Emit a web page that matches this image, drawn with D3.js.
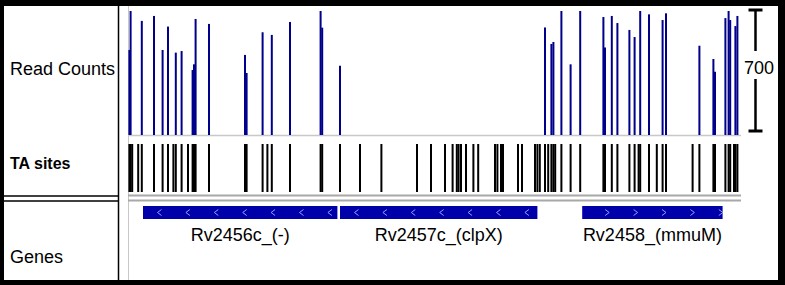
<!DOCTYPE html>
<html>
<head>
<meta charset="utf-8">
<script src="https://cdn.jsdelivr.net/npm/d3@7/dist/d3.min.js"></script>
<style>
  body { margin: 0; background: #000; }
  svg { display: block; font-family: "Liberation Sans", Arial, sans-serif; }
</style>
</head>
<body>
<div id="tracks"></div>
<script>
// DATA (positions in bp from the start of the window)
var taSites = [2, 8, 16, 46, 64, 125, 168, 195, 222, 234, 263, 295, 318, 325, 333, 400,
  580, 588, 668, 692, 714, 805, 958, 966, 1055, 1155, 1262, 1440, 1510, 1580, 1618, 1639,
  1648, 1660, 1685, 1722, 1746, 1830, 1842, 1860, 1870, 1945, 1965, 2030, 2042, 2054,
  2080, 2096, 2112, 2122, 2131, 2162, 2208, 2256, 2372, 2380, 2414, 2442, 2502, 2528,
  2548, 2556, 2600, 2639, 2668, 2685, 2818, 2852, 2922, 2930, 2982, 2998, 3006, 3025,
  3032, 3042];

// one count per TA site, 0 = no insertions
var readCounts = [480, 700, 0, 0, 644, 672, 480, 612, 0, 465, 474, 0, 367, 399, 655, 627,
  452, 350, 580, 0, 565, 638, 700, 606, 391, 0, 0, 0, 0, 0, 0, 0,
  0, 0, 0, 0, 0, 0, 0, 0, 0, 0, 0, 0, 0, 0,
  607, 0, 514, 525, 0, 700, 399, 700, 666, 494, 672, 632, 593, 553,
  0, 700, 681, 0, 649, 687, 0, 504, 429, 357, 660, 700, 649, 0,
  615, 672];

var geneNames = ["Rv2456c_(-)", "Rv2457c_(clpX)", "Rv2458_(mmuM)"];
var geneStarts = [70, 1055, 2266];
var geneEnds = [1042, 2042, 2968];
var geneStrands = ["-", "-", "+"];

var trackLabels = ["Read Counts", "TA sites", "Genes"];
var windowSize = 3060;
var scaleMax = 700;

(function() {
  var width = 785,
      height = 285;

  var svg = d3.select("#tracks")
        .append("svg")
        .attr("width", width)
        .attr("height", height);

  // frame: black border, white panel
  svg.append("rect")
    .attr("width", width)
    .attr("height", height)
    .attr("fill", "#000")

  svg.append("rect")
    .attr("x", 4)
    .attr("y", 6)
    .attr("width", 774)
    .attr("height", 274)
    .attr("fill", "#fff")

 // SCALES
  var xPositionScale = d3.scaleLinear().domain([0, windowSize]).range([129, 741])
  var yPositionScale = d3.scaleLinear().domain([0, scaleMax]).range([135, 11]).clamp(true)

  var taTop = 144,
      taBottom = 192,
      geneTop = 206,
      geneHeight = 13

// label column boxes
  svg.append("line")
    .attr("x1", 118.5).attr("x2", 118.5)
    .attr("y1", 6).attr("y2", 280)
    .attr("stroke", "#000")
    .attr("stroke-width", 1.5)

  svg.selectAll(".box-line")
    .data([196, 201])
    .enter().append("line")
    .attr("class", "box-line")
    .attr("x1", 4).attr("x2", 118.5)
    .attr("y1", function(d) { return d }).attr("y2", function(d) { return d })
    .attr("stroke", "#000")
    .attr("stroke-width", 1.5)

  // grey grid of the tracks
  svg.append("line")
    .attr("x1", 128.5).attr("x2", 128.5)
    .attr("y1", 6).attr("y2", 280)
    .attr("stroke", "#c8c8c8")
    .attr("stroke-width", 1)

  svg.append("line")
    .attr("x1", 128).attr("x2", 741)
    .attr("y1", 135.5).attr("y2", 135.5)
    .attr("stroke", "#c8c8c8")
    .attr("stroke-width", 1.5)

  svg.selectAll(".sep-line")
    .data([195.5, 200.5])
    .enter().append("line")
    .attr("class", "sep-line")
    .attr("x1", 128).attr("x2", 741)
    .attr("y1", function(d) { return d }).attr("y2", function(d) { return d })
    .attr("stroke", "#a8a8a8")
    .attr("stroke-width", 2)

  // track labels
  var labelY = [75, 169, 263]
  svg.selectAll(".track-label")
    .data(trackLabels)
    .enter().append("text")
    .attr("class", "track-label")
    .attr("x", 10)
    .attr("y", function(d, i) { return labelY[i] })
    .attr("font-size", function(d, i) { return i == 1 ? "16px" : "18px" })
    .attr("font-weight", function(d, i) { return i == 1 ? "bold" : "normal" })
    .attr("fill", "#000")
    .text(function(d) { return d })

// READ COUNT BARS
  var reads = taSites.map(function(d, i) { return {pos: d, count: readCounts[i]} })
    .filter(function(d) { return d.count > 0 })

  svg.selectAll(".read")
    .data(reads)
    .enter().append("rect")
    .attr("class", "read")
    .attr("x", function(d) { return xPositionScale(d.pos) - 1 })
    .attr("width", 2)
    .attr("y", function(d) { return yPositionScale(d.count) })
    .attr("height", function(d) { return yPositionScale(0) - yPositionScale(d.count) })
    .attr("fill", "#00008b")

// TA SITES
  svg.selectAll(".ta")
    .data(taSites)
    .enter().append("rect")
    .attr("class", "ta")
    .attr("x", function(d) { return xPositionScale(d) - 1 })
    .attr("width", 2)
    .attr("y", taTop)
    .attr("height", taBottom - taTop)
    .attr("fill", "#000")

// GENES
  var genes = geneNames.map(function(d, i) {
    return {name: d, start: geneStarts[i], end: geneEnds[i], strand: geneStrands[i]}
  })

  var gene = svg.selectAll(".gene")
    .data(genes)
    .enter().append("g")
    .attr("class", "gene")

  gene.append("rect")
    .attr("x", function(d) { return xPositionScale(d.start) })
    .attr("width", function(d) { return xPositionScale(d.end) - xPositionScale(d.start) })
    .attr("y", geneTop)
    .attr("height", geneHeight)
    .attr("fill", "#0000aa")

  // strand chevrons
  gene.each(function(d) {
    var x0 = xPositionScale(d.start), x1 = xPositionScale(d.end)
    var cy = geneTop + geneHeight / 2
    var first = d.strand == "-" ? 16.5 : 25
    for (var x = x0 + first; x < x1 - 1; x += 28.4) {
      var dir = d.strand == "-" ? 1 : -1
      d3.select(this).append("path")
        .attr("d", "M" + (x + 2 * dir) + "," + (cy - 3) + "L" + (x - 2 * dir) + "," + cy + "L" + (x + 2 * dir) + "," + (cy + 3))
        .attr("fill", "none")
        .attr("stroke", "#9a9aff")
        .attr("stroke-width", 1)
    }
  })

  gene.append("text")
    .attr("x", function(d) { return (xPositionScale(d.start) + xPositionScale(d.end)) / 2 })
    .attr("y", 241)
    .attr("text-anchor", "middle")
    .attr("font-size", "18px")
    .attr("fill", "#000")
    .text(function(d) { return d.name })

// DATA RANGE BAR
  var barX = 755.5
  var scaleTop = yPositionScale(scaleMax) - 1,
      scaleBottom = yPositionScale(0) - 4

  svg.append("line")
    .attr("x1", barX).attr("x2", barX)
    .attr("y1", scaleTop).attr("y2", scaleBottom)
    .attr("stroke", "#000")
    .attr("stroke-width", 2.5)

  svg.selectAll(".cap")
    .data([scaleTop, scaleBottom])
    .enter().append("line")
    .attr("class", "cap")
    .attr("x1", barX - 7).attr("x2", barX + 7)
    .attr("y1", function(d) { return d }).attr("y2", function(d) { return d })
    .attr("stroke", "#000")
    .attr("stroke-width", 3)

  svg.append("rect")
    .attr("x", 742)
    .attr("y", 51)
    .attr("width", 35)
    .attr("height", 28)
    .attr("fill", "#fff")

  svg.append("text")
    .attr("x", 759)
    .attr("y", 74)
    .attr("text-anchor", "middle")
    .attr("font-size", "18px")
    .attr("fill", "#000")
    .text(scaleMax)

})();
</script>
</body>
</html>
